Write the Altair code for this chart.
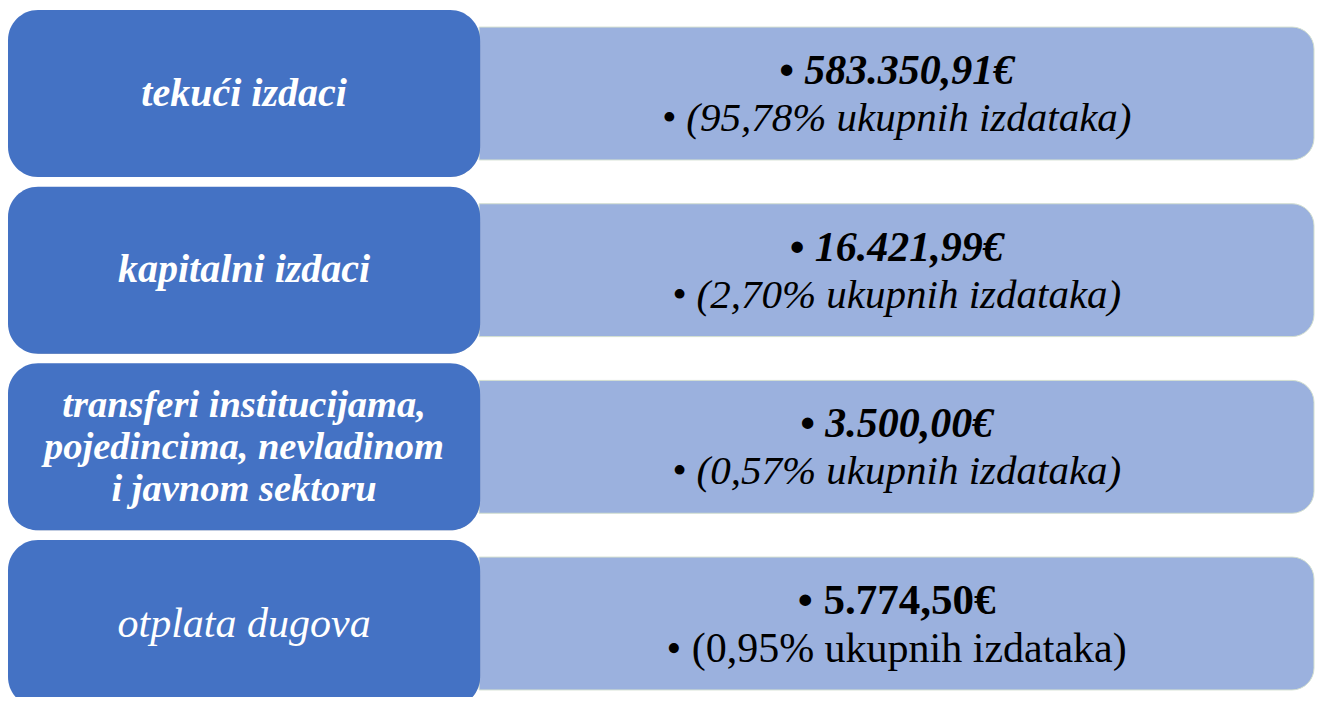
import altair as alt
import pandas as pd

# ---- data ----
categories = [
    "tekući izdaci",
    "kapitalni izdaci",
    "transferi institucijama,\npojedincima, nevladinom\ni javnom sektoru",
    "otplata dugova",
]
amounts = ["583.350,91€", "16.421,99€", "3.500,00€", "5.774,50€"]
shares = ["95,78", "2,70", "0,57", "0,95"]
label_bold = [True, True, True, False]
value_italic = [True, True, True, False]

df = pd.DataFrame({
    "row": list(range(len(categories))),
    "category": categories,
    "nlines": [c.count("\n") + 1 for c in categories],
    "amount": ["• " + a for a in amounts],
    "share": ["• (" + s + "% ukupnih izdataka)" for s in shares],
    "lbold": label_bold,
    "ritalic": value_italic,
})

W, H = 1307, 689
xs = alt.Scale(domain=[8, 1323], range=[0, W], nice=False, zero=False)
ys = alt.Scale(domain=[-0.484, 3.416], range=[0, H], nice=False, zero=False)

base = alt.Chart(df).transform_calculate(
    lx0="8", lx1="483", lxc="245.5",
    rx0="482", rx1="1322", rxc="902",
    ly0="datum.row - 0.4726", ly1="datum.row + 0.4726",
    ry0="datum.row - 0.376", ry1="datum.row + 0.376",
    ly="datum.row - (datum.nlines - 1) * 0.1189",
    t1="datum.row - 0.128", t2="datum.row + 0.145",
)

FONT = "Liberation Serif"

right_box = base.mark_rect(
    fill="#9BB1DE", stroke="#D3DFD0", strokeWidth=1,
    cornerRadiusTopRight=22, cornerRadiusBottomRight=22,
).encode(
    x=alt.X("rx0:Q", scale=xs, axis=None), x2="rx1:Q",
    y=alt.Y("ry0:Q", scale=ys, axis=None), y2="ry1:Q",
)

def box_enc():
    return dict(
        x=alt.X("lx0:Q", scale=xs, axis=None), x2="lx1:Q",
        y=alt.Y("ly0:Q", scale=ys, axis=None), y2="ly1:Q",
    )

shadow2 = base.mark_rect(fill="#000000", opacity=0.10, cornerRadius=32, xOffset=3, yOffset=4).encode(**box_enc())
shadow = base.mark_rect(fill="#000000", opacity=0.22, cornerRadius=30, xOffset=1.5, yOffset=2).encode(**box_enc())
left_box = base.mark_rect(fill="#4472C4", cornerRadius=30).encode(**box_enc())

def label_layer(cond, bold, size):
    return base.transform_filter(cond).mark_text(
        font=FONT, fontSize=size, fontWeight="bold" if bold else "normal",
        fontStyle="italic", color="white", lineBreak="\n", lineHeight=42,
        align="center", baseline="middle",
    ).encode(
        x=alt.X("lxc:Q", scale=xs, axis=None),
        y=alt.Y("ly:Q", scale=ys, axis=None),
        text="category:N",
    )

def value_layers(italic, s1, s2):
    b = base.transform_filter("datum.ritalic" if italic else "!datum.ritalic")
    style = "italic" if italic else "normal"
    l1 = b.mark_text(
        font=FONT, fontSize=s1, fontWeight="bold", fontStyle=style, color="black",
        align="center", baseline="middle",
    ).encode(
        x=alt.X("rxc:Q", scale=xs, axis=None),
        y=alt.Y("t1:Q", scale=ys, axis=None),
        text="amount:N",
    )
    l2 = b.mark_text(
        font=FONT, fontSize=s2, fontWeight="normal", fontStyle=style, color="black",
        align="center", baseline="middle",
    ).encode(
        x=alt.X("rxc:Q", scale=xs, axis=None),
        y=alt.Y("t2:Q", scale=ys, axis=None),
        text="share:N",
    )
    return l1 + l2

chart = alt.layer(
    right_box, shadow2, shadow, left_box,
    label_layer("datum.lbold && datum.nlines == 1", True, 40),
    label_layer("datum.lbold && datum.nlines > 1", True, 38.5),
    label_layer("!datum.lbold", False, 42),
    value_layers(True, 42, 41), value_layers(False, 43, 42),
).properties(
    width=W, height=H, padding=0, autosize=alt.AutoSizeParams(type="none"),
    background="white",
).configure_view(stroke=None)

chart.save("out.html", embed_options={"renderer": "svg", "actions": False})
